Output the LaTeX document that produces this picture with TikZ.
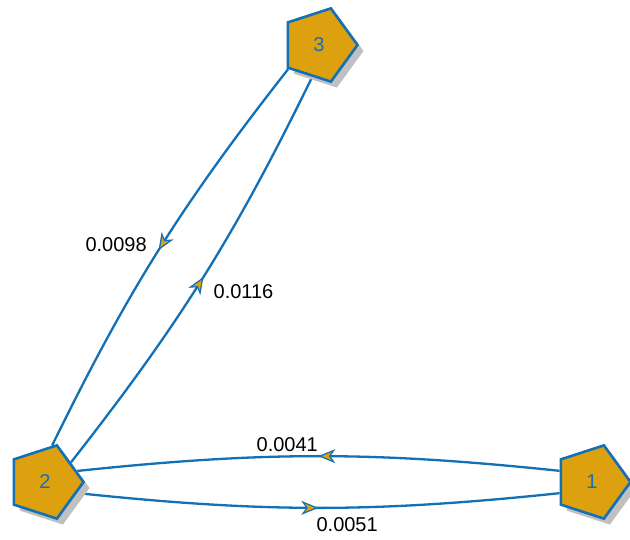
\documentclass[tikz,border=0pt]{standalone}
\usepackage{fontspec}
\setmainfont{Liberation Sans}
\usetikzlibrary{shapes.geometric,arrows.meta,decorations.markings,shadows,backgrounds}
\definecolor{nodeGold}{RGB}{221,160,14}
\definecolor{edgeBlue}{RGB}{18,112,182}
\definecolor{shadowGray}{RGB}{192,192,192}

\begin{document}
\begin{tikzpicture}[
    x=1pt, y=-1pt,
    font=\fontsize{20}{24}\selectfont,
    state/.style={
        regular polygon, regular polygon sides=5, shape border rotate=-18,
        minimum size=77pt, inner sep=0pt, line width=2.6pt,
        draw=edgeBlue, fill=nodeGold, text=edgeBlue,
        drop shadow={shadow xshift=6pt, shadow yshift=-6pt, fill=shadowGray, opacity=1}
    },
    link/.style={
        line width=2.3pt, draw=edgeBlue,
        decoration={markings, mark=at position 0.5 with {\arrow{Stealth[length=17pt, width=14pt, inset=5pt, line width=1.2pt, fill=nodeGold]}}},
        postaction={decorate}
    },
    weight/.style={inner sep=0pt, text=black}
]
    \useasboundingbox (0,0) rectangle (630,539);

    % --- states ---
    \node[state] (n1) at (592,482) {1};
    \node[state] (n2) at (45,482) {2};
    \node[state] (n3) at (319,45) {3};

    % --- transitions ---
    \begin{scope}[on background layer]
        \draw[link] (n1.161) to[bend right=6] node[weight, pos=0.57, anchor=south, yshift=4pt] {0.0041} (n2.19);
        \draw[link] (n2.341) to[bend right=6] node[weight, pos=0.565, anchor=north, yshift=-9pt] {0.0051} (n1.199);
        \draw[link] (n3.218) to[bend right=6] node[weight, pos=0.485, anchor=east, xshift=-14pt] {0.0098} (n2.79);
        \draw[link] (n2.37) to[bend right=6] node[weight, pos=0.46, anchor=west, xshift=18pt] {0.0116} (n3.258);
    \end{scope}
\end{tikzpicture}
\end{document}
